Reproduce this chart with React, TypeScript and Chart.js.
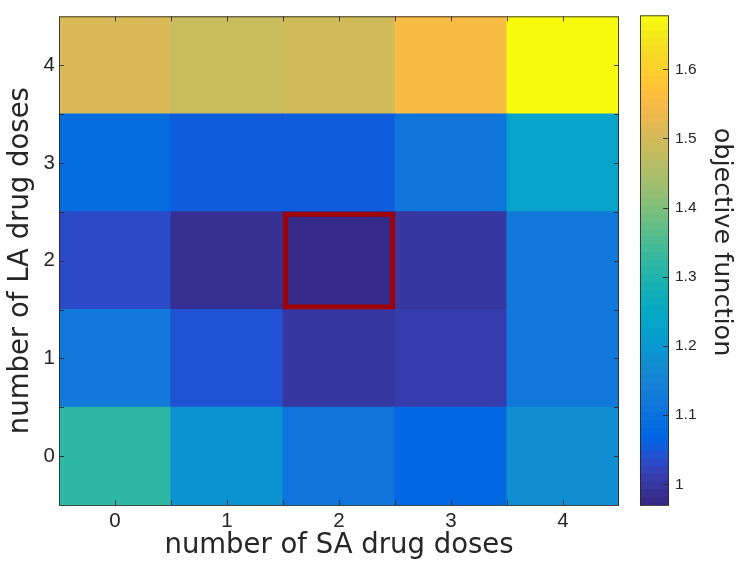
import React, { useEffect, useRef } from 'react';
import { Chart, registerables } from 'chart.js';

Chart.register(...registerables);

// ---------- data ----------
const saDoseLabels = ['0', '1', '2', '3', '4'];          // x categories (SA drug doses)
const laDoses = [0, 1, 2, 3, 4];                           // y rows (LA drug doses)
// objective function, one array per LA dose (row), values per SA dose (column)
const objectiveLA0 = [1.318, 1.191, 1.108, 1.080, 1.175];
const objectiveLA1 = [1.119, 1.042, 0.998, 1.009, 1.119];
const objectiveLA2 = [1.031, 0.987, 0.970, 0.998, 1.119];
const objectiveLA3 = [1.086, 1.053, 1.052, 1.103, 1.230];
const objectiveLA4 = [1.507, 1.484, 1.496, 1.551, 1.678];
const objectiveRows = [objectiveLA0, objectiveLA1, objectiveLA2, objectiveLA3, objectiveLA4];
const optimumSA = 2;
const optimumLA = 2;
const colorMin = 0.97;
const colorMax = 1.678;
const axisTickValues = [0, 1, 2, 3, 4];
const tickMarkValues = [0, 0.5, 1, 1.5, 2, 2.5, 3, 3.5, 4];
const colorbarTickValues = [1.0, 1.1, 1.2, 1.3, 1.4, 1.5, 1.6];

// parula colormap (64 levels)
const parula: number[][] = [
  [0.2081, 0.1663, 0.5292], [0.2116, 0.1898, 0.5777], [0.2123, 0.2138, 0.6270], [0.2081, 0.2386, 0.6771],
  [0.1959, 0.2645, 0.7279], [0.1707, 0.2919, 0.7792], [0.1253, 0.3242, 0.8303], [0.0591, 0.3598, 0.8683],
  [0.0117, 0.3875, 0.8820], [0.0060, 0.4086, 0.8828], [0.0165, 0.4266, 0.8786], [0.0329, 0.4430, 0.8720],
  [0.0498, 0.4586, 0.8641], [0.0629, 0.4737, 0.8554], [0.0723, 0.4887, 0.8467], [0.0779, 0.5040, 0.8384],
  [0.0793, 0.5200, 0.8312], [0.0749, 0.5375, 0.8263], [0.0641, 0.5570, 0.8240], [0.0488, 0.5772, 0.8228],
  [0.0343, 0.5966, 0.8199], [0.0265, 0.6137, 0.8135], [0.0239, 0.6287, 0.8038], [0.0231, 0.6418, 0.7913],
  [0.0228, 0.6535, 0.7768], [0.0267, 0.6642, 0.7607], [0.0384, 0.6743, 0.7436], [0.0590, 0.6838, 0.7254],
  [0.0843, 0.6928, 0.7062], [0.1133, 0.7015, 0.6859], [0.1453, 0.7098, 0.6646], [0.1801, 0.7177, 0.6424],
  [0.2178, 0.7250, 0.6193], [0.2586, 0.7317, 0.5954], [0.3022, 0.7376, 0.5712], [0.3482, 0.7424, 0.5473],
  [0.3953, 0.7459, 0.5244], [0.4420, 0.7481, 0.5033], [0.4871, 0.7491, 0.4840], [0.5300, 0.7491, 0.4661],
  [0.5709, 0.7485, 0.4494], [0.6099, 0.7473, 0.4337], [0.6473, 0.7456, 0.4188], [0.6834, 0.7435, 0.4044],
  [0.7184, 0.7411, 0.3905], [0.7525, 0.7384, 0.3768], [0.7858, 0.7356, 0.3633], [0.8185, 0.7327, 0.3498],
  [0.8507, 0.7299, 0.3360], [0.8824, 0.7274, 0.3217], [0.9139, 0.7258, 0.3063], [0.9450, 0.7261, 0.2886],
  [0.9739, 0.7314, 0.2666], [0.9938, 0.7455, 0.2403], [0.9990, 0.7653, 0.2164], [0.9955, 0.7861, 0.1967],
  [0.9880, 0.8066, 0.1794], [0.9789, 0.8271, 0.1633], [0.9697, 0.8481, 0.1475], [0.9626, 0.8705, 0.1309],
  [0.9589, 0.8949, 0.1132], [0.9598, 0.9218, 0.0948], [0.9661, 0.9514, 0.0755], [0.9763, 0.9831, 0.0538],
];

// ---------- styles ----------
const W = 747;
const H = 565;
const axisColor = '#262626';
const frameColor = 'rgba(38,38,38,0.85)';
const tickFont = { family: '"Liberation Sans", Arial, sans-serif', size: 20.5 };
const titleFont = { family: '"DejaVu Sans", sans-serif', size: 27.5 };

const rgbOf = (c: number[]) =>
  `rgb(${Math.round(c[0] * 255)},${Math.round(c[1] * 255)},${Math.round(c[2] * 255)})`;

const colorFor = (v: number) => {
  const n = parula.length;
  let idx = Math.floor(((v - colorMin) / (colorMax - colorMin)) * n);
  if (idx < 0) idx = 0;
  if (idx > n - 1) idx = n - 1;
  return rgbOf(parula[idx]);
};

const heatFramePlugin = {
  id: 'heatFrame',
  afterDraw(chart: any) {
    const { ctx, chartArea, scales } = chart;
    const { left, right, top, bottom } = chartArea;
    const x = scales.x;
    const y = scales.y;
    ctx.save();
    ctx.strokeStyle = frameColor;
    ctx.lineWidth = 1;
    ctx.beginPath();
    const len = 5;
    for (const v of tickMarkValues) {
      const px = Math.round(x.getPixelForValue(v)) + 0.5;
      ctx.moveTo(px, bottom);
      ctx.lineTo(px, bottom - len);
      ctx.moveTo(px, top);
      ctx.lineTo(px, top + len);
      const py = Math.round(y.getPixelForValue(v)) + 0.5;
      ctx.moveTo(left, py);
      ctx.lineTo(left + len, py);
      ctx.moveTo(right, py);
      ctx.lineTo(right - len, py);
    }
    ctx.stroke();
    ctx.strokeRect(left + 0.5, top + 0.5, right - left - 1, bottom - top);
    ctx.restore();
  },
};

const colorbarFramePlugin = {
  id: 'colorbarFrame',
  afterDraw(chart: any) {
    const { ctx, chartArea, scales } = chart;
    const { left, right, top, bottom } = chartArea;
    const y = scales.y;
    ctx.save();
    ctx.strokeStyle = frameColor;
    ctx.lineWidth = 1;
    ctx.beginPath();
    for (const v of colorbarTickValues) {
      const py = Math.round(y.getPixelForValue(v)) + 0.5;
      ctx.moveTo(right, py);
      ctx.lineTo(right - 6, py);
    }
    ctx.stroke();
    ctx.strokeRect(left + 0.5, top + 0.5, right - left - 1, bottom - top);
    ctx.restore();
  },
};

export default function App() {
  const heatRef = useRef<HTMLCanvasElement | null>(null);
  const barRef = useRef<HTMLCanvasElement | null>(null);
  const labelRef = useRef<HTMLCanvasElement | null>(null);

  useEffect(() => {
    if (!heatRef.current || !barRef.current || !labelRef.current) return;

    const cellDatasets: any[] = objectiveRows.map((row, r) => ({
      label: `LA ${laDoses[r]}`,
      data: row.map(() => [laDoses[r] - 0.5, laDoses[r] + 0.5]),
      backgroundColor: row.map((v) => colorFor(v)),
      borderWidth: 0,
      grouped: false,
      barPercentage: 1,
      categoryPercentage: 1,
      inflateAmount: 0.5,
      order: 1,
    }));

    const optimumDataset: any = {
      label: 'optimum',
      data: saDoseLabels.map((_, c) =>
        c === optimumSA ? [optimumLA - 0.5, optimumLA + 0.5] : null
      ),
      backgroundColor: 'rgba(0,0,0,0)',
      borderColor: '#a30000',
      borderWidth: 5,
      borderSkipped: false,
      grouped: false,
      barPercentage: 1,
      categoryPercentage: 1,
      inflateAmount: 0,
      order: 0,
    };

    const heat = new Chart(heatRef.current, {
      type: 'bar',
      data: { labels: saDoseLabels, datasets: [...cellDatasets, optimumDataset] },
      options: {
        animation: false,
        responsive: false,
        devicePixelRatio: 1,
        layout: { padding: { top: 15, right: 128, left: 0, bottom: 0 } },
        plugins: { legend: { display: false }, tooltip: { enabled: false } },
        scales: {
          x: {
            type: 'category',
            offset: true,
            grid: { display: false, drawTicks: false },
            border: { display: false },
            ticks: { font: tickFont, color: axisColor, padding: 4, maxRotation: 0 },
            title: {
              display: true,
              text: 'number of SA drug doses',
              font: titleFont,
              color: axisColor,
              padding: { top: 0, bottom: 3 },
            },
            afterFit: (s: any) => { s.height = 60; },
          },
          y: {
            type: 'linear',
            min: -0.5,
            max: 4.5,
            grid: { display: false, drawTicks: false },
            border: { display: false },
            ticks: { font: tickFont, color: axisColor, padding: 4 },
            afterBuildTicks: (s: any) => { s.ticks = axisTickValues.map((v) => ({ value: v })); },
            title: {
              display: true,
              text: 'number of LA drug doses',
              font: titleFont,
              color: axisColor,
              padding: { top: 4, bottom: 0 },
            },
            afterFit: (s: any) => { s.width = 59; },
          },
        },
      } as any,
      plugins: [heatFramePlugin],
    });

    const n = parula.length;
    const bandDatasets: any[] = parula.map((c, i) => ({
      label: `band ${i}`,
      data: [[colorMin + (i * (colorMax - colorMin)) / n, colorMin + ((i + 1) * (colorMax - colorMin)) / n]],
      backgroundColor: rgbOf(c),
      borderWidth: 0,
      grouped: false,
      barPercentage: 1,
      categoryPercentage: 1,
      inflateAmount: 0.6,
    }));

    const bar = new Chart(barRef.current, {
      type: 'bar',
      data: { labels: [''], datasets: bandDatasets },
      options: {
        animation: false,
        responsive: false,
        devicePixelRatio: 1,
        layout: { padding: { top: 15, left: 640, right: 0, bottom: 60 } },
        plugins: { legend: { display: false }, tooltip: { enabled: false } },
        scales: {
          x: { type: 'category', display: false, offset: true },
          y: {
            type: 'linear',
            position: 'right',
            min: colorMin,
            max: colorMax,
            grid: { display: false, drawTicks: false },
            border: { display: false },
            ticks: {
              font: { family: '"Liberation Sans", Arial, sans-serif', size: 15.5 },
              color: axisColor,
              padding: 6,
              callback: (v: any) => (Number(v) === 1 ? '1' : Number(v).toFixed(1)),
            },
            afterBuildTicks: (s: any) => { s.ticks = colorbarTickValues.map((v) => ({ value: v })); },
            title: { display: false },
            afterFit: (s: any) => { s.width = 78; },
          },
        },
      } as any,
      plugins: [colorbarFramePlugin],
    });

    // colorbar label (MATLAB places it slightly above the colorbar centre)
    const label = new Chart(labelRef.current, {
      type: 'bar',
      data: { labels: [''], datasets: [] },
      options: {
        animation: false,
        responsive: false,
        devicePixelRatio: 1,
        layout: { padding: { top: 15, left: 640, right: 0, bottom: 96 } },
        plugins: { legend: { display: false }, tooltip: { enabled: false } },
        scales: {
          x: { type: 'category', display: false },
          y: {
            type: 'linear',
            position: 'right',
            min: colorMin,
            max: colorMax,
            grid: { display: false, drawTicks: false },
            border: { display: false },
            ticks: { display: false },
            title: {
              display: true,
              text: 'objective function',
              font: { family: '"DejaVu Sans", sans-serif', size: 25.5 },
              color: axisColor,
              padding: { top: 10, bottom: 0 },
            },
            afterFit: (s: any) => { s.width = 78; },
          },
        },
      } as any,
    });

    return () => {
      heat.destroy();
      bar.destroy();
      label.destroy();
    };
  }, []);

  const canvasStyle: React.CSSProperties = { position: 'absolute', left: 0, top: 0, width: W, height: H };
  return (
    <div style={{ position: 'fixed', left: 0, top: 0, width: W, height: H, background: '#fff' }}>
      <canvas ref={heatRef} width={W} height={H} style={canvasStyle} />
      <canvas ref={barRef} width={W} height={H} style={{ ...canvasStyle, pointerEvents: 'none' }} />
      <canvas ref={labelRef} width={W} height={H} style={{ ...canvasStyle, pointerEvents: 'none' }} />
    </div>
  );
}
